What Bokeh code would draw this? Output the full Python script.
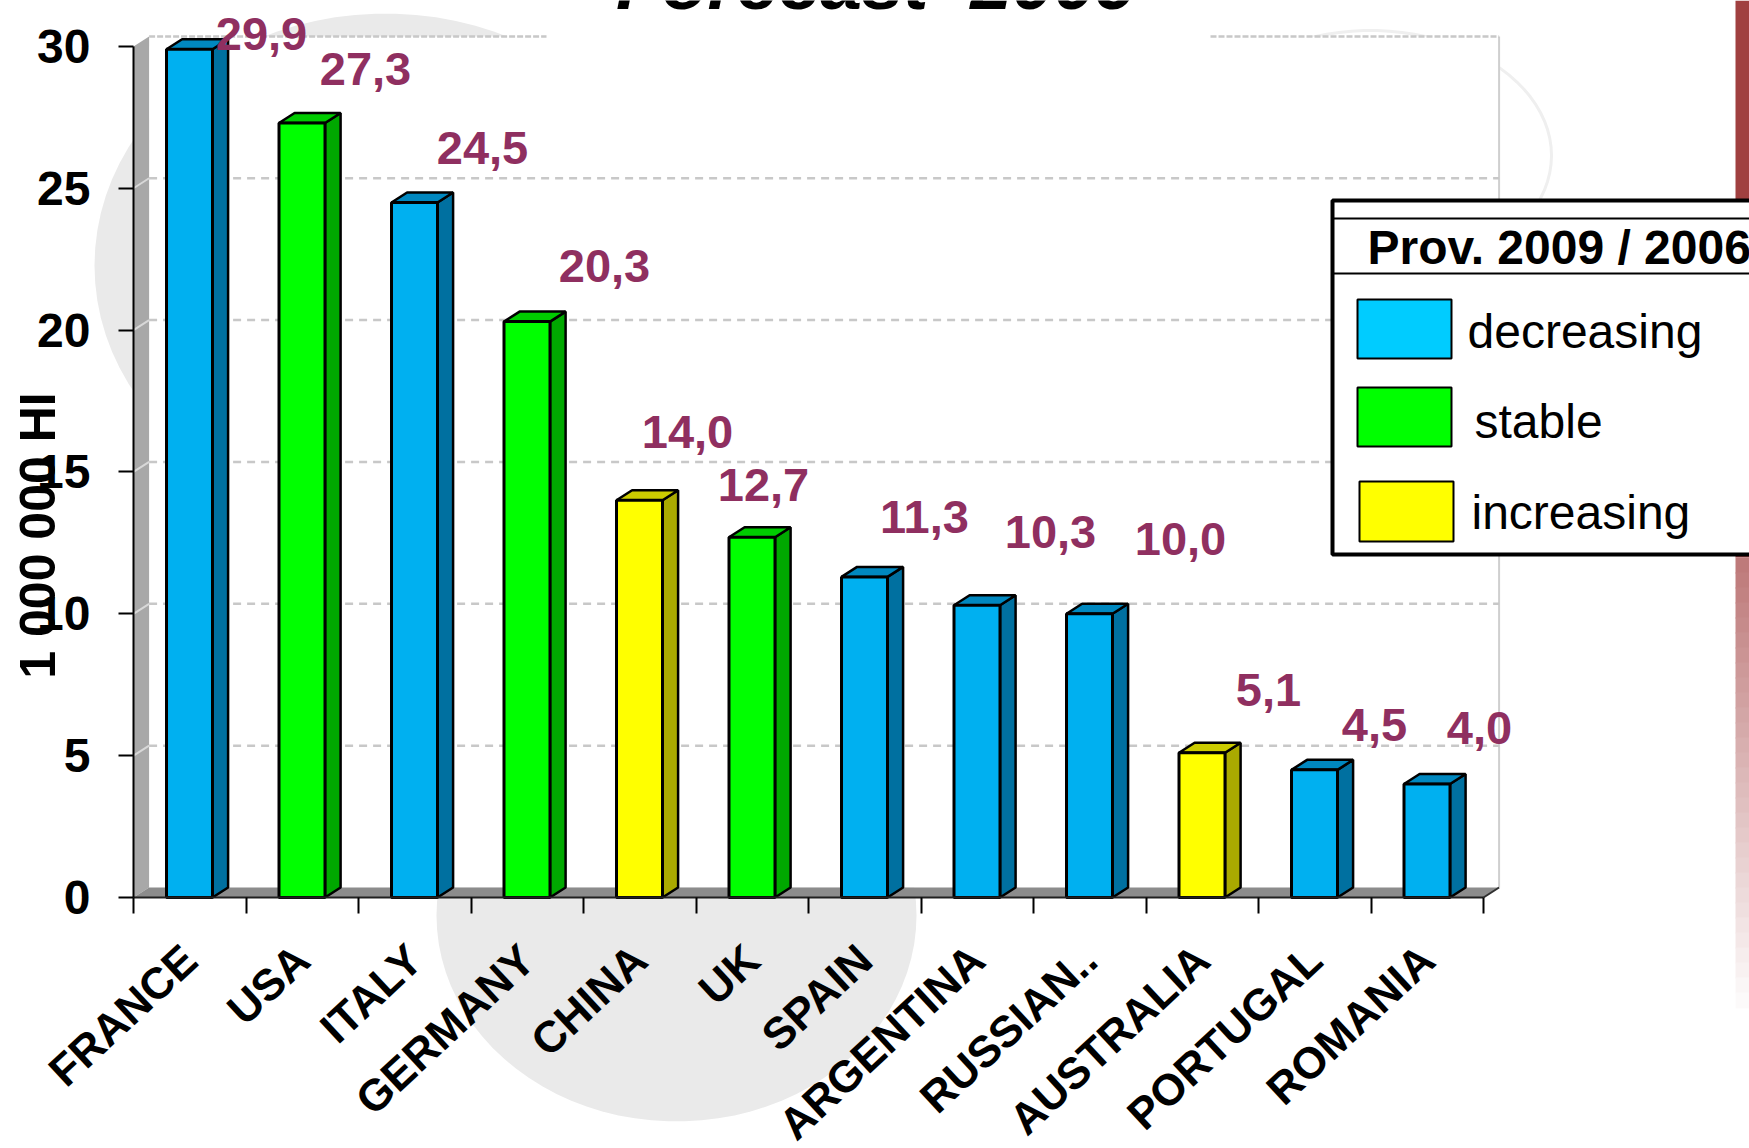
from bokeh.plotting import figure
from bokeh.embed import file_html
from bokeh.resources import INLINE
from bokeh.models import Range1d, FixedTicker, LinearAxis
from bokeh.core.properties import value
import math

categories = ["FRANCE", "USA", "ITALY", "GERMANY", "CHINA", "UK", "SPAIN",
              "ARGENTINA", "RUSSIAN..", "AUSTRALIA", "PORTUGAL", "ROMANIA"]
values = [29.9, 27.3, 24.5, 20.3, 14.0, 12.7, 11.3, 10.3, 10.0, 5.1, 4.5, 4.0]
labels = ["29,9", "27,3", "24,5", "20,3", "14,0", "12,7", "11,3", "10,3", "10,0", "5,1", "4,5", "4,0"]
trend = ["decreasing", "stable", "decreasing", "stable", "increasing", "stable",
         "decreasing", "decreasing", "decreasing", "increasing", "decreasing", "decreasing"]
y_ticks = [0, 5, 10, 15, 20, 25, 30]
legend_title = "Prov. 2009 / 2006"
legend_names = ["decreasing", "stable", "increasing"]

# page geometry (full-size picture pixels)
W, H = 1749, 1148
L, B = 133, 897
BAND, UNIT = 112.5, 28.37
X = lambda px: (px - L) / BAND
Y = lambda py: (B - py) / UNIT

front = {"decreasing": "#00B0F0", "stable": "#00FF00", "increasing": "#FFFF00"}
side = {"decreasing": "#0070A0", "stable": "#00A800", "increasing": "#AAAA00"}
top = {"decreasing": "#0088C0", "stable": "#00CC00", "increasing": "#CCCC00"}
swatch = {"decreasing": "#00CCFF", "stable": "#00FF00", "increasing": "#FFFF00"}

FONT = "Liberation Sans"
p = figure(width=W, height=H, output_backend="svg", toolbar_location=None,
           x_range=Range1d(X(0), X(W)), y_range=Range1d(Y(H), Y(0)),
           min_border_left=0, min_border_right=0, min_border_top=0, min_border_bottom=0,
           x_axis_type=None, y_axis_type=None, outline_line_color=None)
p.grid.visible = False


def ellipse(cx, cy, rx, ry):
    n = 90
    return ([X(cx + rx * math.cos(2 * math.pi * i / n)) for i in range(n)],
            [Y(cy + ry * math.sin(2 * math.pi * i / n)) for i in range(n)])


for cx, cy, rx, ry in [(385, 265, 291, 252), (676, 915, 240, 206)]:
    xs, ys = ellipse(cx, cy, rx, ry)
    p.patch(xs, ys, fill_color="#EAEAEA", line_color=None)
xs, ys = ellipse(1370, 155, 181, 125)
p.line(xs + xs[:1], ys + ys[:1], line_color="#EFEFEF", line_width=3)

# back wall, side wall, floor
DX, DY = 15.6 / BAND, 10 / UNIT
n = len(categories)
p.quad(left=[DX], right=[n + DX], bottom=[DY], top=[30 + DY], fill_color="white", line_color=None)
p.patch([0, DX, DX, 0], [0, DY, 30 + DY, 30], fill_color="#A8A8A8", line_color=None)
p.patch([0, DX, n + DX, n], [0, DY, DY, 0], fill_color="#8C8C8C", line_color=None)
p.segment([n + DX], [DY], [n + DX], [30 + DY], line_color="#CFCFCF", line_width=2)
p.segment([n], [0], [n + DX], [DY], line_color="#303030", line_width=2)

# gridlines on the wall
grid_vals = [t for t in y_ticks if 0 < t < 30]
p.segment([DX] * len(grid_vals), [t + DY for t in grid_vals], [n + DX] * len(grid_vals),
          [t + DY for t in grid_vals], line_color="#C8C8C8", line_width=2.5, line_dash="8 6")
p.segment([0] * len(grid_vals), grid_vals, [DX] * len(grid_vals), [t + DY for t in grid_vals],
          line_color="#D8D8D8", line_width=2)
p.segment([DX, X(1210)], [30 + DY] * 2, [X(546), n + DX], [30 + DY] * 2,
          line_color="#C8C8C8", line_width=2.5, line_dash="6 2")

# bars
BW, OFF = 46 / BAND, 33 / BAND
lefts = [i + OFF for i in range(n)]
rights = [a + BW for a in lefts]
p.patches([[r, r + DX, r + DX, r] for r in rights],
          [[0, DY, v + DY, v] for v in values],
          fill_color=[side[t] for t in trend], line_color="black", line_width=2.5)
p.patches([[a, a + DX, r + DX, r] for a, r in zip(lefts, rights)],
          [[v, v + DY, v + DY, v] for v in values],
          fill_color=[top[t] for t in trend], line_color="black", line_width=2.5)
p.quad(left=lefts, right=rights, bottom=[0] * n, top=values,
       fill_color=[front[t] for t in trend], line_color="black", line_width=3)

# axes
ax = LinearAxis(ticker=FixedTicker(ticks=y_ticks), bounds=(0, 30), fixed_location=0,
                major_tick_in=0, major_tick_out=15,
                minor_tick_line_color=None, axis_line_color="black", axis_line_width=2,
                major_tick_line_color="black", major_tick_line_width=2, major_label_standoff=28,
                major_label_text_font=FONT, major_label_text_font_style="bold",
                major_label_text_font_size="48px", major_label_text_color="black")
p.add_layout(ax, "left")
edges = list(range(n + 1))
ax2 = LinearAxis(ticker=FixedTicker(ticks=edges), bounds=(0, n), fixed_location=0,
                 major_tick_in=0, major_tick_out=16,
                 minor_tick_line_color=None, axis_line_color="#202020", axis_line_width=2,
                 major_tick_line_color="black", major_tick_line_width=2,
                 major_label_overrides={e: "" for e in edges})
p.add_layout(ax2, "below")
centers = [i + 0.5 for i in range(n)]
ax3 = LinearAxis(ticker=FixedTicker(ticks=centers), bounds=(0, n), fixed_location=0,
                 major_tick_in=0, major_tick_out=0, minor_tick_line_color=None, axis_line_color=None,
                 major_tick_line_color=None, major_label_standoff=55,
                 major_label_orientation=math.radians(43),
                 major_label_overrides={c: name for c, name in zip(centers, categories)},
                 major_label_text_font=FONT, major_label_text_font_style="bold",
                 major_label_text_font_size="44px", major_label_text_color="black")
p.add_layout(ax3, "below")

# value labels
lab_px = [(261, 33), (365, 68), (482, 147), (604, 265), (687, 431), (763, 484),
          (924, 516), (1050, 531), (1180, 538), (1268, 689), (1374, 724), (1479, 727)]
p.text([X(a) for a, b in lab_px], [Y(b) for a, b in lab_px], text=labels, text_font=value(FONT),
       text_font_style="bold", text_font_size="47px", text_color="#8F2F60", text_align="center",
       text_baseline="middle")

# axis title, chart title
p.text([X(37)], [Y(535)], text=["1 000 000 HI"], text_font=value(FONT), text_font_style="bold",
       text_font_size="50px", text_color="black", text_align="center",
       text_baseline="alphabetic", angle=math.pi / 2)
p.text([X(876)], [Y(-18)], text=["Forecast \u00a02009"], text_font=value(FONT), text_font_style="bold italic",
       text_font_size="75px", text_color="black", text_align="center", text_baseline="alphabetic")

# brown edge strip, fading out below the legend
p.quad(left=[X(1735)], right=[X(W)], bottom=[Y(557)], top=[Y(0)], fill_color="#A04040", line_color=None)
steps = 30
for i in range(steps):
    f = i / steps
    col = "#%02X%02X%02X" % (int(190 + 65 * f), int(122 + 133 * f), int(122 + 133 * f))
    y0 = 557 + 450 * f
    p.quad(left=[X(1735)], right=[X(W)], bottom=[Y(y0 + 16)], top=[Y(y0)], fill_color=col, line_color=None)

# legend panel
p.quad(left=[X(1332)], right=[X(1760)], bottom=[Y(554)], top=[Y(200)], fill_color="white",
       line_color="black", line_width=4)
p.segment([X(1332)] * 2, [Y(218), Y(273)], [X(W)] * 2, [Y(218), Y(273)], line_color="black", line_width=2)
p.text([X(1367)], [Y(247)], text=[legend_title], text_font=value(FONT), text_font_style="bold",
       text_font_size="48px", text_color="black", text_align="left", text_baseline="middle")
boxes = [(1357, 299, 358), (1357, 387, 446), (1359, 481, 541)]
txt_pos = [(1467, 331), (1474, 421), (1471, 512)]
for name, (bx, b0, b1), (tx, ty) in zip(legend_names, boxes, txt_pos):
    p.quad(left=[X(bx)], right=[X(bx + 94)], bottom=[Y(b1)], top=[Y(b0)], fill_color=swatch[name],
           line_color="black", line_width=2)
    p.text([X(tx)], [Y(ty)], text=[name], text_font=value(FONT), text_font_size="48px",
           text_color="black", text_align="left", text_baseline="middle")

open("out.html", "w").write(file_html(p, INLINE))
